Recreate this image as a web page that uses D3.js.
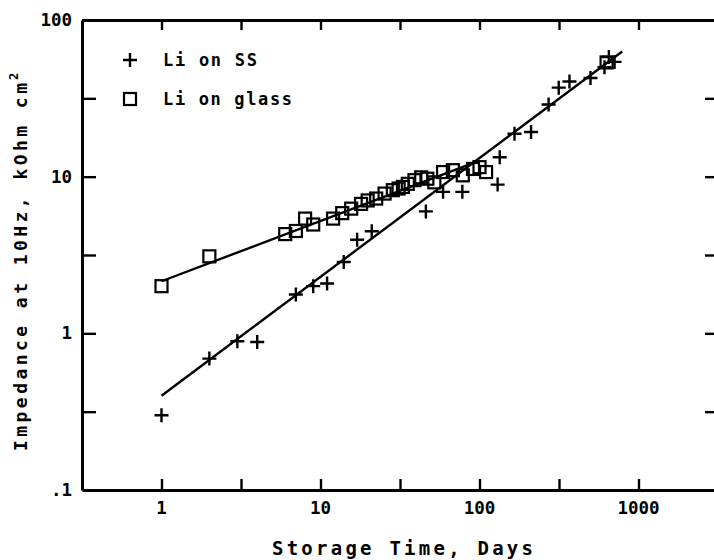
<!DOCTYPE html>
<html>
<head>
<meta charset="utf-8">
<script src="https://cdn.jsdelivr.net/npm/d3@7"></script>
<style>
  html, body { margin: 0; padding: 0; background: #fff; }
  svg { display: block; }
  text { font-family: "DejaVu Sans Mono", monospace; font-weight: bold; fill: #000; }
</style>
</head>
<body>
<div id="chart"></div>
<script>
// ---- data ----
const ssDays = [1, 2, 3, 4, 7, 9, 11, 14, 17, 21, 46, 59, 78, 130, 134, 166, 211, 272, 315, 368, 499, 611, 651, 707];
const ssImp  = [0.30, 0.69, 0.89, 0.88, 1.77, 2.0, 2.08, 2.85, 3.96, 4.48, 6.0, 8.0, 8.0, 8.9, 13.3, 18.8, 19.3, 28.9, 37, 40.5, 42.6, 50, 58, 54];

const glassDays = [1, 2, 6, 7, 8, 9, 12, 13.7, 15.6, 18, 19.8, 22.4, 25.3, 28.5, 31, 33, 35.4, 39, 43, 47, 52, 59, 68, 78.5, 91, 100, 110, 630];
const glassImp  = [2.0, 3.1, 4.3, 4.5, 5.4, 4.95, 5.4, 5.85, 6.25, 6.7, 7.05, 7.25, 7.8, 8.2, 8.4, 8.6, 9.0, 9.5, 9.9, 9.7, 9.2, 10.7, 11.0, 10.2, 11.2, 11.5, 10.7, 53.6];

const ssFitDays = [1, 790];
const ssFitImp  = [0.40, 63];
const glassFitDays = [1, 97];
const glassFitImp  = [2.15, 12.5];

const xTickValues = [1, 3.1623, 10, 31.623, 100, 316.23, 1000];
const xTickLabels = ["1", "", "10", "", "100", "", "1000"];
const yTickValues = [0.31623, 1, 3.1623, 10, 31.623, 100];
const yTickLabelValues = [0.1, 1, 10, 100];
const yTickLabels = [".1", "1", "10", "100"];

const legendNames = ["Li on SS", "Li on glass"];
const xTitle = "Storage Time, Days";
const yTitle = "Impedance at 10Hz, kOhm cm";

// ---- drawing ----
const W = 714, H = 560;
const svg = d3.select("#chart").append("svg").attr("width", W).attr("height", H);

const x = d3.scaleLog().domain([Math.pow(10, -0.5), Math.pow(10, 3.5)]).range([82, 718]);
const y = d3.scaleLog().domain([0.1, 100]).range([490, 20]);

function styleAxis(g) {
  g.select(".domain").attr("stroke", "#000").attr("stroke-width", 3);
  g.selectAll(".tick line").attr("stroke", "#000").attr("stroke-width", 2.4);
  g.selectAll(".tick text").remove();
}

// bottom axis
svg.append("g").attr("transform", `translate(0,${y.range()[0]})`)
  .call(d3.axisBottom(x).tickValues(xTickValues).tickSize(-11).tickSizeOuter(0).tickFormat(""))
  .call(styleAxis);
// top axis
svg.append("g").attr("transform", `translate(0,${y.range()[1]})`)
  .call(d3.axisTop(x).tickValues(xTickValues).tickSize(-10).tickSizeOuter(0).tickFormat(""))
  .call(styleAxis);
// left axis
svg.append("g").attr("transform", `translate(${x.range()[0]},0)`)
  .call(d3.axisLeft(y).tickValues(yTickValues).tickSize(-14).tickSizeOuter(0).tickFormat(""))
  .call(styleAxis);
// right axis
svg.append("g").attr("transform", `translate(${x.range()[1]},0)`)
  .call(d3.axisRight(y).tickValues(yTickValues).tickSize(-13).tickSizeOuter(0).tickFormat(""))
  .call(styleAxis);

// x tick labels
svg.append("g").selectAll("text")
  .data(xTickValues.map((v, i) => ({v, l: xTickLabels[i]})).filter(d => d.l))
  .join("text")
  .attr("x", d => x(d.v)).attr("y", 514)
  .attr("text-anchor", "middle")
  .attr("font-size", 17.5)
  .text(d => d.l);

// y tick labels
svg.append("g").selectAll("text")
  .data(yTickLabelValues.map((v, i) => ({v, l: yTickLabels[i]})))
  .join("text")
  .attr("x", 72).attr("y", d => y(d.v) + 6)
  .attr("text-anchor", "end")
  .attr("font-size", 17.5)
  .text(d => d.l);

// fit lines
const line = d3.line().x(d => x(d[0])).y(d => y(d[1]));
svg.append("path").datum(ssFitDays.map((d, i) => [d, ssFitImp[i]]))
  .attr("d", line).attr("fill", "none").attr("stroke", "#000").attr("stroke-width", 2.4);
svg.append("path").datum(glassFitDays.map((d, i) => [d, glassFitImp[i]]))
  .attr("d", line).attr("fill", "none").attr("stroke", "#000").attr("stroke-width", 2.4);

// markers
const plusPath = "M-7,0H7M0,-7V7";
svg.append("g").selectAll("rect")
  .data(glassDays.map((d, i) => [d, glassImp[i]]))
  .join("rect")
  .attr("x", d => x(d[0]) - 6).attr("y", d => y(d[1]) - 6)
  .attr("width", 12).attr("height", 12)
  .attr("fill", "none").attr("stroke", "#000").attr("stroke-width", 2.2);

svg.append("g").selectAll("path")
  .data(ssDays.map((d, i) => [d, ssImp[i]]))
  .join("path")
  .attr("transform", d => `translate(${x(d[0])},${y(d[1])})`)
  .attr("d", plusPath).attr("stroke", "#000").attr("stroke-width", 2.4).attr("fill", "none");

// legend
const lg = svg.append("g");
lg.append("path").attr("transform", "translate(130,60)").attr("d", plusPath)
  .attr("stroke", "#000").attr("stroke-width", 2.4);
lg.append("rect").attr("x", 124).attr("y", 93).attr("width", 12).attr("height", 12)
  .attr("fill", "none").attr("stroke", "#000").attr("stroke-width", 2.2);
lg.append("text").attr("x", 163).attr("y", 66).attr("font-size", 17)
  .attr("textLength", 94).attr("lengthAdjust", "spacing").text(legendNames[0]);
lg.append("text").attr("x", 163).attr("y", 105).attr("font-size", 17)
  .attr("textLength", 129).attr("lengthAdjust", "spacing").text(legendNames[1]);

// axis titles
svg.append("text").attr("x", 272).attr("y", 555).attr("font-size", 19)
  .attr("textLength", 261).attr("lengthAdjust", "spacing").text(xTitle);

const yt = svg.append("g").attr("transform", "translate(27,451) rotate(-90)");
yt.append("text").attr("x", 0).attr("y", 0).attr("font-size", 18)
  .attr("textLength", 368).attr("lengthAdjust", "spacing").text(yTitle);
yt.append("text").attr("x", 371).attr("y", -9).attr("font-size", 12).text("2");
</script>
</body>
</html>
